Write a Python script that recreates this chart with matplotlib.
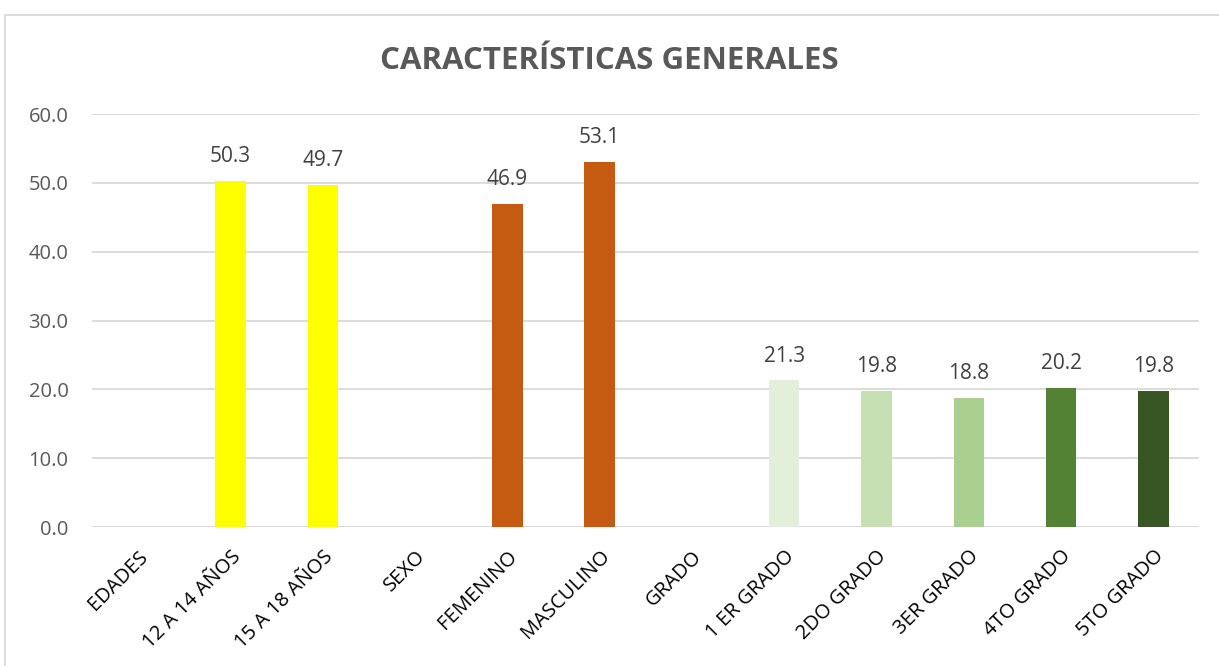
import matplotlib.pyplot as plt
import numpy as np
from matplotlib.patches import Rectangle

categorias = ['EDADES', '12 A 14 AÑOS', '15 A 18 AÑOS', 'SEXO', 'FEMENINO', 'MASCULINO',
              'GRADO', '1 ER GRADO', '2DO GRADO', '3ER GRADO', '4TO GRADO', '5TO GRADO']
valores = [np.nan, 50.3, 49.7, np.nan, 46.9, 53.1, np.nan, 21.3, 19.8, 18.8, 20.2, 19.8]
colores = ['none', '#FFFF00', '#FFFF00', 'none', '#C55A11', '#C55A11', 'none',
           '#E2EFDA', '#C6E0B4', '#A9D08E', '#548235', '#375623']

plt.rcParams['font.family'] = ['Open Sans', 'DejaVu Sans']

fig = plt.figure(figsize=(12.19, 6.66), dpi=100)
ax = fig.add_axes([0.0755, 0.2087, 0.9085, 0.6201])

x = np.arange(len(categorias))
vals = np.nan_to_num(valores)
ax.bar(x, vals, width=0.33, color=colores, zorder=3)
for xi, v in zip(x, valores):
    if not np.isnan(v):
        ax.text(xi, v + 2.0, f'{v:.1f}', ha='center', va='bottom', fontsize=15, color='#404040')

ax.set_xlim(-0.5, len(categorias) - 0.5)
ax.set_ylim(0, 60)
ax.set_yticks(np.arange(0, 61, 10))
ax.set_yticklabels([f'{t:.1f}' for t in np.arange(0, 61, 10)], fontsize=14.5, color='#595959')
ax.set_xticks(x)
ax.set_xticklabels(categorias, rotation=45, ha='right', rotation_mode='anchor', fontsize=14.5, color='black')
ax.tick_params(axis='both', length=0)
ax.tick_params(axis='x', pad=14)
ax.tick_params(axis='y', pad=17)
ax.grid(axis='y', color='#D9D9D9', linewidth=1.3, zorder=0)
for s in ax.spines.values():
    s.set_visible(False)
ax.axhline(0, color='#D9D9D9', linewidth=1.3, zorder=2)

fig.text(0.5, 0.908, 'CARACTERÍSTICAS GENERALES', ha='center', va='center',
         fontsize=22.5, fontweight='bold', color='#595959')

fig.patches.append(Rectangle((0.004, -0.01), 1.0, 0.988, transform=fig.transFigure,
                             fill=False, edgecolor='#D9D9D9', linewidth=1.3))

fig.savefig('out.png', dpi=100)
